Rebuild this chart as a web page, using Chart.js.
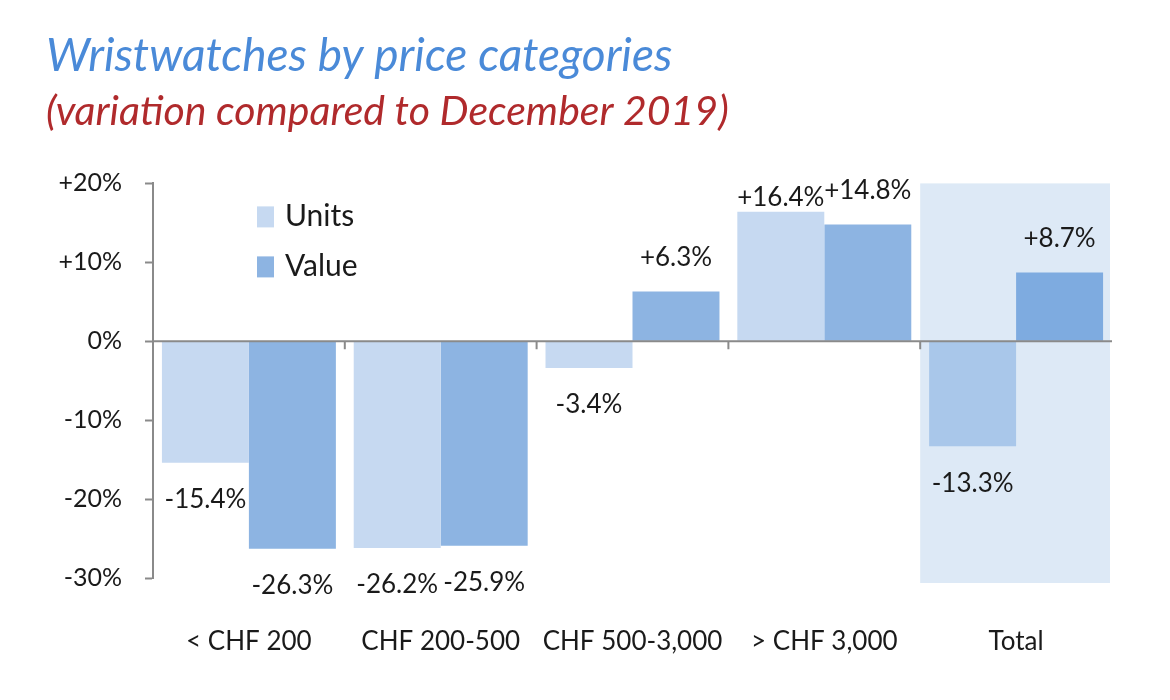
<!DOCTYPE html>
<html>
<head>
<meta charset="utf-8">
<script src="https://cdn.jsdelivr.net/npm/chart.js@4.4.1/dist/chart.umd.min.js"></script>
<style>
  html, body { margin: 0; padding: 0; background: #fff; }
  #wrap { width: 1170px; height: 700px; }
</style>
</head>
<body>
<div id="wrap"><canvas id="chart" width="1170" height="700"></canvas></div>
<script>
// data
var categories = ['< CHF 200', 'CHF 200-500', 'CHF 500-3,000', '> CHF 3,000', 'Total'];
var unitsValues = [-15.4, -26.2, -3.4, 16.4, -13.3];
var valueValues = [-26.3, -25.9, 6.3, 14.8, 8.7];
var seriesNames = ['Units', 'Value'];
var yMin = -30, yMax = 20, yStep = 10;
var highlighted = 'Total';

var FONT = 'Lato, "Open Sans", sans-serif';

function fmtPct(v) {
  var s = v.toFixed(1) + '%';
  return v > 0 ? '+' + s : s;
}

function isHighlight(ctx) {
  return categories[ctx.dataIndex] === highlighted;
}

// shaded panel behind the "Total" category, zero line, labels, legend
var panelPlugin = {
  id: 'panel',
  beforeDraw: function(chart) {
    var x = chart.scales.x, area = chart.chartArea, c = chart.ctx;
    var idx = categories.indexOf(highlighted);
    var half = (x.getPixelForValue(1) - x.getPixelForValue(0)) / 2;
    var left = x.getPixelForValue(idx) - half;
    c.save();
    c.fillStyle = '#dde9f6';
    c.fillRect(left, area.top, area.right - 2 - left, area.bottom + 5 - area.top);
    c.restore();
  },
  afterDatasetsDraw: function(chart) {
    var x = chart.scales.x, y = chart.scales.y, c = chart.ctx;
    var half = (x.getPixelForValue(1) - x.getPixelForValue(0)) / 2;
    var y0 = y.getPixelForValue(0);
    c.save();
    c.strokeStyle = '#8a8a8a';
    c.lineWidth = 2;
    c.beginPath();
    c.moveTo(chart.chartArea.left, y0);
    c.lineTo(chart.chartArea.right, y0);
    for (var i = 1; i < categories.length; i++) {
      var px = x.getPixelForValue(i) - half;
      c.moveTo(px, y0);
      c.lineTo(px, y0 + 8);
    }
    c.stroke();

    // value labels
    c.fillStyle = '#1a1a1a';
    c.font = '26px ' + FONT;
    c.textAlign = 'center';
    c.textBaseline = 'middle';
    chart.data.datasets.forEach(function(ds, di) {
      var meta = chart.getDatasetMeta(di);
      meta.data.forEach(function(bar, i) {
        var v = ds.data[i];
        var ly = v >= 0 ? bar.y - ds.labelAbove : bar.y + 37;
        c.fillText(fmtPct(v), bar.x, ly);
      });
    });
    c.restore();
  },
  afterDraw: function(chart) {
    // legend inside the plot, top left
    var c = chart.ctx, area = chart.chartArea;
    var lx = area.left + 104, ly = area.top + 33;
    c.save();
    c.font = '30px ' + FONT;
    c.textBaseline = 'middle';
    c.textAlign = 'left';
    chart.data.datasets.forEach(function(ds, i) {
      var yy = ly + i * 50;
      c.fillStyle = ds.legendColor;
      c.fillRect(lx, yy - 10, 17, 21);
      c.fillStyle = '#1a1a1a';
      c.fillText(ds.label, lx + 28, yy);
    });
    c.restore();
  }
};

new Chart(document.getElementById('chart'), {
  type: 'bar',
  data: {
    labels: categories,
    datasets: [{
      label: seriesNames[0],
      data: unitsValues,
      legendColor: '#c6d9f1',
      labelAbove: 14,
      backgroundColor: function(ctx) { return isHighlight(ctx) ? '#a9c7ea' : '#c6d9f1'; },
      borderWidth: 0,
      barPercentage: 1,
      categoryPercentage: 0.907
    }, {
      label: seriesNames[1],
      data: valueValues,
      legendColor: '#8db4e2',
      labelAbove: 34,
      backgroundColor: function(ctx) { return isHighlight(ctx) ? '#7eabe0' : '#8db4e2'; },
      borderWidth: 0,
      barPercentage: 1,
      categoryPercentage: 0.907
    }]
  },
  options: {
    responsive: false,
    animation: false,
    layout: { padding: { left: 46, right: 58, top: 0, bottom: 0 } },
    plugins: {
      legend: { display: false },
      tooltip: { enabled: false },
      title: {
        display: true,
        text: 'Wristwatches by price categories',
        align: 'start',
        color: '#4a8ad8',
        font: { family: FONT, size: 46, style: 'italic', weight: 'normal' },
        padding: { top: 29, bottom: 3 }
      },
      subtitle: {
        display: true,
        text: '(variation compared to December 2019)',
        align: 'start',
        color: '#b02a2c',
        font: { family: FONT, size: 41, style: 'italic', weight: 'normal' },
        padding: { top: 0, bottom: 47 }
      }
    },
    scales: {
      x: {
        grid: { display: false },
        border: { display: false },
        ticks: { color: '#1a1a1a', font: { family: FONT, size: 26 }, padding: 40 },
        afterFit: function(scale) { scale.height = 122; }
      },
      y: {
        min: yMin,
        max: yMax,
        border: { display: true, color: '#8a8a8a', width: 2 },
        grid: {
          drawOnChartArea: false,
          drawTicks: true,
          tickLength: 8,
          tickColor: '#8a8a8a',
          tickWidth: 2
        },
        ticks: {
          stepSize: yStep,
          color: '#1a1a1a',
          font: { family: FONT, size: 25 },
          padding: 23,
          callback: function(v) { return v > 0 ? '+' + v + '%' : v + '%'; }
        },
        afterFit: function(scale) { scale.width = 107; }
      }
    }
  },
  plugins: [panelPlugin]
});
</script>
</body>
</html>
